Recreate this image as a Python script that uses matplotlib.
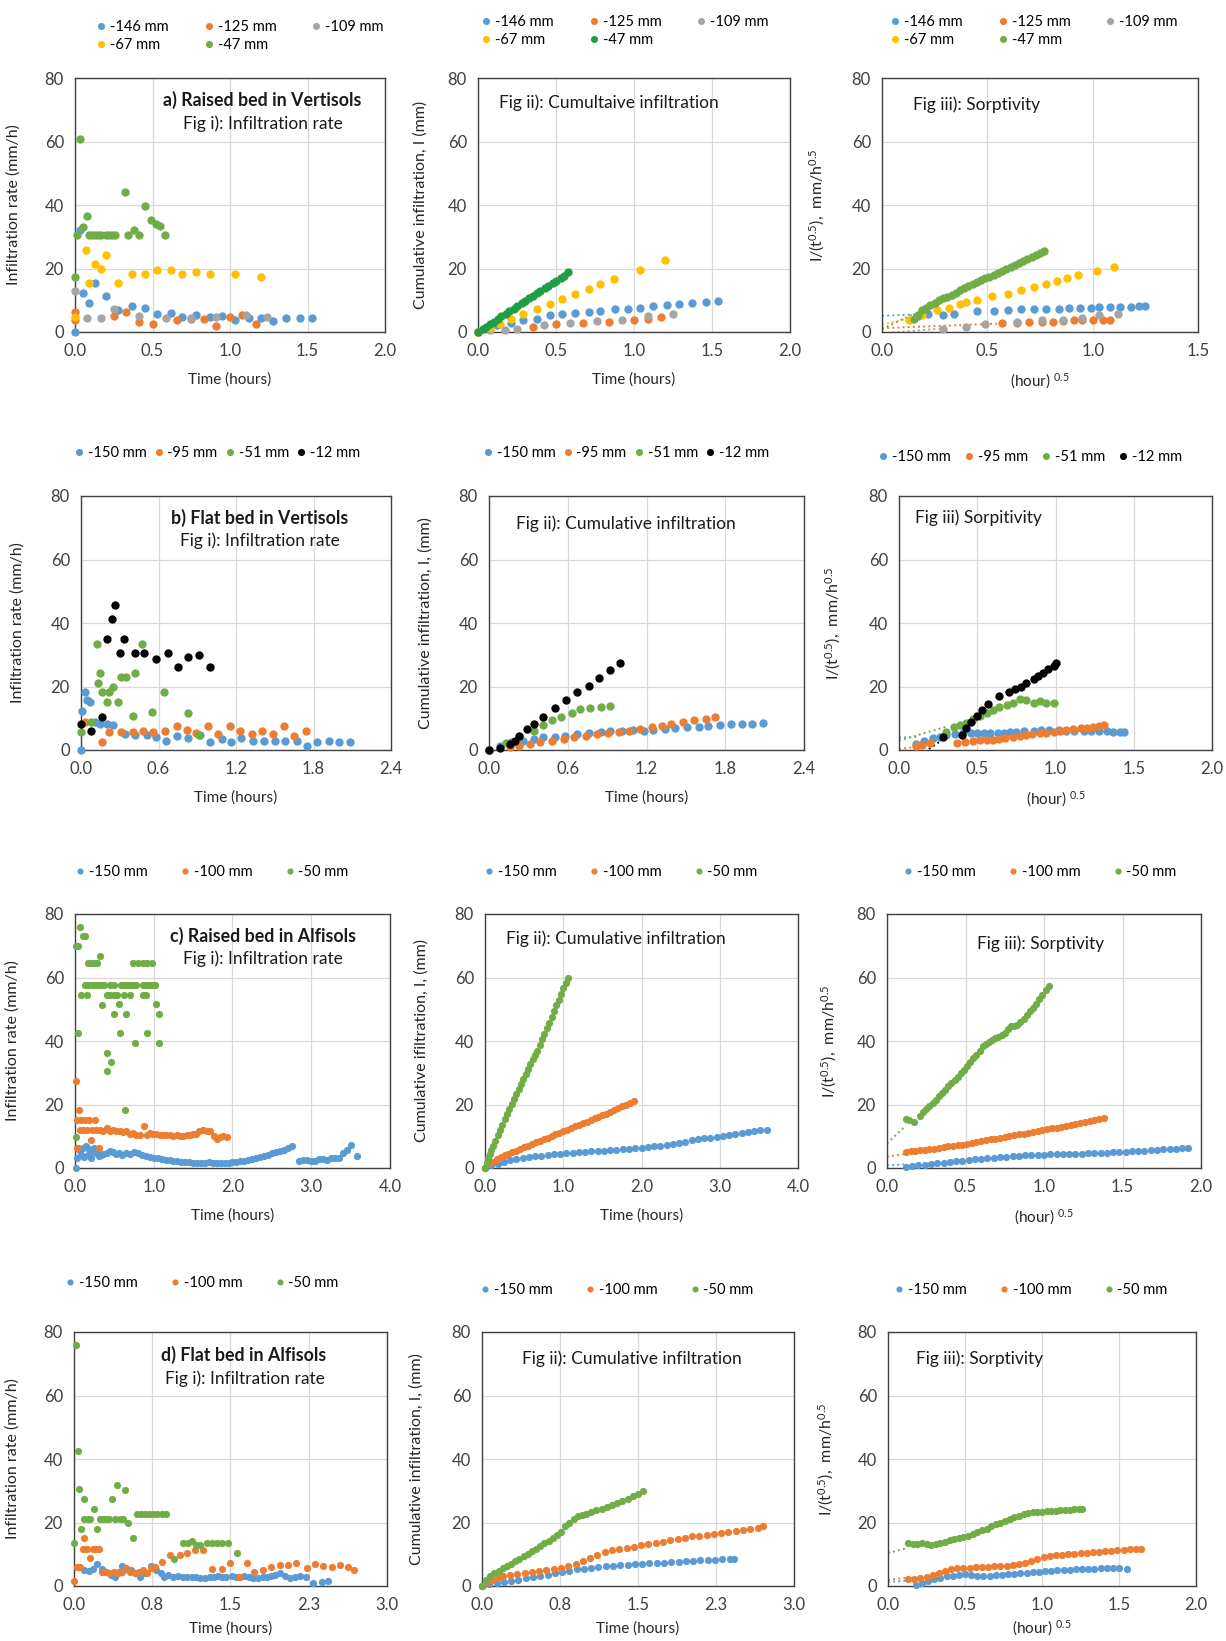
import matplotlib
matplotlib.use('Agg')
import matplotlib.pyplot as plt
import numpy as np

plt.rcParams['font.family'] = ['Lato', 'DejaVu Sans']
plt.rcParams['mathtext.fontset'] = 'custom'
plt.rcParams['mathtext.rm'] = 'Lato'
plt.rcParams['mathtext.it'] = 'Lato:italic'

W, H = 1226, 1641

BLUE = '#5B9BD5'
ORANGE = '#ED7D31'
GRAY = '#A5A5A5'
YELLOW = '#FFC000'
GREEN = '#70AD47'
DKGREEN = '#1E9E45'
BLACK = '#000000'

# ---------------- a) Raised bed in Vertisols ----------------
# Fig i) infiltration rate (t in hours, rate in mm/h)
a1_146_t = [0.00, 0.03, 0.05, 0.09, 0.13, 0.20, 0.28, 0.37, 0.45, 0.53, 0.62, 0.69, 0.78, 0.87, 0.95, 1.03, 1.12, 1.20, 1.28, 1.36, 1.45, 1.53]
a1_146_v = [0.0, 32.0, 12.3, 9.1, 15.4, 11.2, 6.8, 8.1, 7.7, 5.6, 6.1, 4.7, 5.2, 4.7, 4.9, 3.9, 4.5, 4.5, 3.5, 4.5, 4.5, 4.5]
a1_125_t = [0.00, 0.00, 0.25, 0.33, 0.41, 0.50, 0.66, 0.75, 0.83, 0.91, 1.00, 1.08, 1.17]
a1_125_v = [6.3, 3.7, 4.9, 6.3, 3.1, 2.6, 3.7, 4.2, 4.2, 1.8, 4.7, 5.2, 2.6]
a1_109_t = [0.00, 0.08, 0.17, 0.25, 0.41, 0.59, 0.75, 0.91, 1.10, 1.24]
a1_109_v = [12.9, 4.5, 4.5, 7.3, 4.9, 4.5, 4.5, 4.7, 5.2, 4.7]
a1_67_t = [0.00, 0.07, 0.09, 0.13, 0.17, 0.20, 0.28, 0.37, 0.45, 0.53, 0.62, 0.69, 0.78, 0.87, 1.03, 1.20]
a1_67_v = [4.7, 25.7, 15.4, 21.5, 20.0, 24.1, 15.4, 18.4, 18.4, 19.6, 19.6, 18.4, 18.9, 18.4, 18.4, 17.3]
a1_47_t = [0.00, 0.03, 0.01, 0.05, 0.08, 0.09, 0.11, 0.13, 0.15, 0.17, 0.20, 0.22, 0.24, 0.26, 0.32, 0.34, 0.38, 0.41, 0.45, 0.49, 0.52, 0.55, 0.58]
a1_47_v = [17.3, 60.9, 30.4, 33.0, 36.4, 30.4, 30.4, 30.4, 30.4, 30.4, 30.4, 30.4, 30.4, 30.4, 44.0, 30.4, 32.0, 30.4, 39.6, 35.2, 33.9, 33.3, 30.4]

# Fig ii) cumulative infiltration (mm)
a2_146_t = [0.00, 0.12, 0.21, 0.29, 0.38, 0.46, 0.54, 0.62, 0.71, 0.78, 0.88, 0.96, 1.04, 1.12, 1.21, 1.29, 1.37, 1.46, 1.54]
a2_146_v = [0.0, 2.1, 2.8, 3.7, 4.2, 5.2, 5.6, 6.0, 6.3, 6.6, 7.1, 7.3, 7.7, 8.1, 8.4, 8.9, 9.1, 9.4, 9.8]
a2_125_t = [0.00, 0.35, 0.50, 0.67, 0.84, 1.00, 1.09, 1.17]
a2_125_v = [0.0, 1.6, 2.4, 2.8, 3.1, 3.9, 4.2, 4.7]
a2_109_t = [0.08, 0.17, 0.25, 0.42, 0.59, 0.76, 0.92, 1.09, 1.25]
a2_109_v = [0.5, 0.7, 1.0, 2.1, 2.8, 3.5, 3.7, 4.9, 5.8]
a2_67_t = [0.00, 0.08, 0.14, 0.21, 0.29, 0.38, 0.46, 0.54, 0.62, 0.71, 0.78, 0.87, 1.04, 1.20]
a2_67_v = [0.0, 1.4, 2.6, 4.2, 5.8, 7.3, 8.9, 10.5, 12.1, 13.6, 15.2, 16.8, 19.6, 22.8]
a2_47_t = [0.00, 0.03, 0.05, 0.08, 0.10, 0.13, 0.15, 0.18, 0.20, 0.23, 0.25, 0.28, 0.30, 0.33, 0.35, 0.38, 0.40, 0.43, 0.45, 0.48, 0.50, 0.53, 0.55, 0.58]
a2_47_v = [0.0, 1.0, 1.7, 2.6, 3.3, 4.2, 4.9, 5.8, 6.5, 7.4, 8.1, 9.0, 9.7, 10.6, 11.3, 12.2, 12.9, 13.8, 14.5, 15.4, 16.1, 17.0, 17.7, 18.9]

# Fig iii) sorptivity (x in hour^0.5)
a3_146_x = [0.17, 0.22, 0.29, 0.34, 0.45, 0.53, 0.60, 0.66, 0.72, 0.78, 0.84, 0.89, 0.94, 0.99, 1.03, 1.08, 1.13, 1.18, 1.22, 1.25]
a3_146_v = [5.0, 5.8, 5.5, 5.8, 6.6, 6.6, 6.8, 7.1, 7.3, 7.3, 7.3, 7.6, 7.6, 7.7, 7.9, 7.9, 7.9, 7.9, 8.1, 8.1]
a3_125_x = [0.57, 0.64, 0.70, 0.76, 0.81, 0.86, 0.91, 0.95, 1.00, 1.05, 1.08]
a3_125_v = [2.8, 2.8, 3.0, 3.1, 3.1, 3.5, 3.7, 3.7, 3.9, 3.9, 3.9]
a3_109_x = [0.29, 0.40, 0.49, 0.64, 0.76, 0.86, 0.95, 1.03, 1.12]
a3_109_v = [1.0, 1.6, 2.6, 3.1, 3.7, 3.9, 4.5, 5.2, 5.8]
a3_67_x = [0.13, 0.19, 0.26, 0.32, 0.37, 0.40, 0.45, 0.52, 0.60, 0.66, 0.72, 0.78, 0.83, 0.88, 0.93, 1.02, 1.10]
a3_67_v = [3.7, 5.2, 6.8, 7.7, 8.7, 9.4, 10.2, 11.2, 12.1, 13.1, 14.2, 15.2, 16.1, 17.1, 17.8, 19.2, 20.5]
a3_47_x = [0.15, 0.17, 0.19, 0.21, 0.23, 0.25, 0.27, 0.29, 0.31, 0.33, 0.35, 0.37, 0.39, 0.41, 0.43, 0.45,
           0.47, 0.49, 0.51, 0.53, 0.55, 0.57, 0.59, 0.61, 0.63, 0.65, 0.67, 0.69, 0.71, 0.73, 0.75, 0.77]
a3_47_v = [4.2, 5.5, 6.8, 7.6, 8.4, 9.2, 10.0, 10.7, 11.1, 11.8, 12.4, 13.1, 13.8, 14.4, 15.0, 15.7,
           16.3, 16.9, 17.4, 18.1, 18.7, 19.3, 19.9, 20.5, 21.1, 21.7, 22.3, 22.9, 23.5, 24.1, 24.8, 25.4]

# ---------------- b) Flat bed in Vertisols ----------------
b1_150_t = [0.00, 0.01, 0.03, 0.05, 0.07, 0.11, 0.15, 0.20, 0.25, 0.34, 0.42, 0.51, 0.58, 0.66, 0.74, 0.83,
            0.92, 1.00, 1.09, 1.16, 1.24, 1.33, 1.42, 1.50, 1.58, 1.67, 1.75, 1.83, 1.92, 2.00, 2.08]
b1_150_v = [0.0, 12.4, 18.4, 15.7, 15.2, 8.9, 8.2, 8.2, 7.9, 5.0, 4.7, 4.7, 4.2, 2.9, 4.4, 3.7,
            4.7, 2.6, 3.4, 2.6, 3.7, 2.9, 2.9, 2.9, 2.9, 2.9, 1.3, 2.6, 2.9, 2.6, 2.6]
b1_95_t = [0.03, 0.16, 0.22, 0.31, 0.40, 0.48, 0.56, 0.65, 0.74, 0.82, 0.89, 0.98, 1.06, 1.15, 1.23, 1.32, 1.40, 1.49, 1.57, 1.65, 1.74]
b1_95_v = [8.9, 2.6, 5.6, 5.6, 5.8, 6.0, 5.6, 6.1, 7.6, 6.3, 5.5, 7.6, 5.0, 7.6, 6.1, 5.0, 6.1, 5.0, 7.6, 4.4, 6.1]
b1_51_t = [0.00, 0.08, 0.12, 0.13, 0.15, 0.16, 0.20, 0.22, 0.25, 0.29, 0.31, 0.35, 0.40, 0.42, 0.47, 0.55, 0.64, 0.83, 0.91]
b1_51_v = [5.8, 8.9, 33.4, 21.0, 24.4, 18.4, 15.2, 18.4, 20.0, 15.2, 22.9, 22.9, 10.7, 24.4, 33.4, 12.1, 18.4, 11.6, 4.7]
b1_12_t = [0.00, 0.08, 0.16, 0.20, 0.24, 0.26, 0.30, 0.33, 0.42, 0.49, 0.58, 0.67, 0.75, 0.83, 0.91, 1.00]
b1_12_v = [8.2, 6.1, 10.5, 34.9, 41.2, 45.7, 30.4, 34.9, 30.4, 30.4, 28.6, 30.4, 26.2, 29.2, 29.9, 26.2]

b2_150_t = [0.00, 0.08, 0.17, 0.26, 0.34, 0.41, 0.50, 0.58, 0.67, 0.76, 0.85, 0.92, 1.01, 1.10, 1.18, 1.25,
            1.34, 1.42, 1.51, 1.60, 1.67, 1.76, 1.84, 1.93, 2.00, 2.09]
b2_150_v = [0.0, 1.4, 2.4, 2.9, 3.5, 4.0, 4.2, 4.5, 5.1, 5.3, 5.6, 5.9, 6.1, 6.3, 6.1, 6.3,
            6.6, 6.9, 7.4, 7.4, 7.7, 8.0, 8.2, 8.2, 8.2, 8.4]
b2_95_t = [0.00, 0.16, 0.23, 0.31, 0.39, 0.48, 0.57, 0.65, 0.74, 0.82, 0.91, 0.99, 1.07, 1.15, 1.24, 1.32, 1.39, 1.48, 1.56, 1.65, 1.72]
b2_95_v = [0.0, 0.8, 1.4, 1.9, 2.4, 2.9, 3.5, 4.2, 4.5, 5.1, 5.3, 5.6, 5.9, 6.6, 7.4, 7.7, 8.2, 8.7, 9.3, 9.8, 10.3]
b2_51_t = [0.00, 0.13, 0.23, 0.34, 0.41, 0.48, 0.55, 0.63, 0.69, 0.77, 0.85, 0.92]
b2_51_v = [0.0, 2.1, 4.0, 5.9, 8.0, 9.3, 10.5, 11.6, 12.9, 13.3, 13.7, 14.0]
b2_12_t = [0.00, 0.08, 0.16, 0.20, 0.23, 0.29, 0.34, 0.41, 0.50, 0.59, 0.67, 0.76, 0.84, 0.92, 1.00]
b2_12_v = [0.0, 0.6, 1.9, 2.9, 4.5, 6.6, 8.2, 10.5, 13.3, 15.8, 18.2, 20.3, 22.7, 25.3, 27.4]

b3_150_x = [0.11, 0.16, 0.22, 0.26, 0.30, 0.36, 0.41, 0.46, 0.50, 0.54, 0.58, 0.63, 0.67, 0.71, 0.75, 0.80,
            0.86, 0.91, 0.96, 1.02, 1.07, 1.12, 1.18, 1.23, 1.28, 1.33, 1.37, 1.41, 1.44]
b3_150_v = [1.9, 2.8, 3.7, 4.2, 4.7, 5.0, 5.2, 5.4, 5.5, 5.5, 5.5, 5.5, 5.5, 5.6, 5.8, 5.9,
            6.1, 6.2, 6.3, 6.2, 6.1, 6.1, 6.1, 6.1, 6.1, 5.9, 5.8, 5.8, 5.8]
b3_95_x = [0.11, 0.15, 0.20, 0.37, 0.42, 0.47, 0.52, 0.56, 0.60, 0.64, 0.68, 0.73, 0.77, 0.81, 0.85, 0.90,
           0.94, 0.99, 1.03, 1.07, 1.11, 1.16, 1.20, 1.24, 1.28, 1.31]
b3_95_v = [1.3, 1.7, 2.1, 2.3, 2.6, 2.9, 3.0, 3.1, 3.2, 3.4, 3.8, 4.2, 4.4, 4.7, 5.0, 5.3,
           5.5, 5.8, 6.0, 6.3, 6.5, 6.8, 7.0, 7.3, 7.6, 7.9]
b3_51_x = [0.30, 0.35, 0.39, 0.43, 0.47, 0.52, 0.56, 0.60, 0.64, 0.69, 0.73, 0.77, 0.81, 0.86, 0.90, 0.94, 0.99]
b3_51_v = [5.8, 7.1, 7.9, 8.6, 9.7, 10.7, 11.8, 12.6, 13.6, 14.2, 14.7, 16.0, 15.7, 14.9, 15.5, 14.9, 14.9]
b3_12_x = [0.28, 0.40, 0.43, 0.46, 0.50, 0.53, 0.57, 0.64, 0.70, 0.74, 0.78, 0.81, 0.86, 0.89, 0.92, 0.95, 0.99, 1.00]
b3_12_v = [4.2, 4.7, 6.8, 8.9, 10.7, 12.6, 14.5, 17.0, 18.4, 19.1, 20.0, 21.0, 22.3, 23.3, 24.4, 25.4, 26.5, 27.3]

# ---------------- c) Raised bed in Alfisols ----------------
c1_150_t = [0.01, 0.02, 0.04, 0.06, 0.08, 0.10, 0.12, 0.14, 0.16, 0.18, 0.20, 0.22, 0.24, 0.27, 0.30, 0.33,
            0.36, 0.40, 0.44, 0.48, 0.52, 0.56, 0.60, 0.65, 0.70, 0.75, 0.80, 0.85, 0.90, 0.95, 1.00, 1.05,
            1.10, 1.15, 1.20, 1.25, 1.30, 1.35, 1.40, 1.45, 1.50, 1.55, 1.60, 1.65, 1.70, 1.75, 1.80, 1.85,
            1.90, 1.95, 2.00, 2.05, 2.10, 2.15, 2.20, 2.25, 2.30, 2.35, 2.40, 2.45, 2.50, 2.55, 2.60, 2.65,
            2.70, 2.75, 2.85, 2.90, 2.95, 3.00, 3.05, 3.10, 3.15, 3.20, 3.25, 3.30, 3.35, 3.40, 3.45, 3.50, 3.58]
c1_150_v = [0.0, 3.1, 6.3, 5.2, 4.0, 6.3, 3.5, 6.8, 4.2, 6.0, 3.3, 5.5, 6.3, 4.7, 3.7, 4.0,
            4.4, 4.8, 5.2, 4.9, 4.4, 4.6, 4.1, 4.7, 4.3, 4.9, 4.6, 4.1, 3.9, 3.6, 3.3, 3.0,
            2.8, 2.6, 2.4, 2.2, 2.1, 2.0, 1.9, 1.8, 1.7, 1.6, 1.6, 1.7, 1.8, 1.6, 1.6, 1.7,
            1.6, 1.7, 1.8, 2.0, 2.1, 2.3, 2.6, 2.9, 3.2, 3.5, 3.8, 4.2, 4.6, 4.9, 5.3, 5.8,
            6.2, 6.8, 2.1, 2.4, 2.6, 2.3, 2.2, 2.7, 2.9, 2.5, 3.1, 3.0, 3.2, 4.7, 5.8, 7.3, 3.7]
c1_100_t = [0.01, 0.02, 0.03, 0.05, 0.06, 0.08, 0.10, 0.13, 0.15, 0.18, 0.20, 0.22, 0.25, 0.27, 0.30, 0.32,
            0.36, 0.40, 0.44, 0.48, 0.52, 0.57, 0.61, 0.65, 0.70, 0.74, 0.78, 0.82, 0.87, 0.91, 0.95, 0.99,
            1.03, 1.08, 1.12, 1.16, 1.20, 1.25, 1.29, 1.33, 1.37, 1.42, 1.46, 1.50, 1.54, 1.58, 1.63, 1.67,
            1.71, 1.76, 1.80, 1.84, 1.88, 1.93]
c1_100_v = [27.3, 6.3, 15.2, 18.4, 12.1, 15.2, 12.1, 15.2, 12.1, 15.2, 8.9, 12.1, 15.2, 12.1, 6.3, 12.1,
            11.5, 12.6, 11.8, 12.1, 11.5, 11.8, 11.2, 11.5, 10.7, 11.0, 10.5, 10.3, 13.1, 10.5, 11.0, 10.7,
            10.7, 10.5, 10.5, 10.3, 10.3, 10.0, 10.3, 10.0, 10.0, 10.3, 10.5, 10.7, 10.7, 11.5, 12.1, 11.8,
            11.8, 10.0, 9.2, 9.7, 10.0, 9.7]
c1_50_t = [0.01, 0.04, 0.06, 0.10, 0.13, 0.04, 0.01, 0.17, 0.20, 0.24, 0.28, 0.32, 0.13, 0.17, 0.21, 0.25,
           0.29, 0.33, 0.37, 0.45, 0.50, 0.58, 0.62, 0.66, 0.70, 0.74, 0.78, 0.86, 0.90, 0.94, 0.98, 1.02,
           0.07, 0.15, 0.41, 0.45, 0.50, 0.53, 0.62, 0.70, 0.86, 0.90, 0.74, 0.80, 0.86, 0.92, 0.98, 0.34,
           0.56, 1.03, 0.49, 0.65, 1.07, 0.57, 0.91, 0.76, 1.07, 0.41, 0.46, 0.40, 0.63]
c1_50_v = [69.8, 69.8, 75.8, 73.0, 73.0, 42.5, 9.7, 64.5, 64.5, 64.5, 64.5, 66.7, 57.7, 57.7, 57.7, 57.7,
           57.7, 57.7, 57.7, 57.7, 57.7, 57.7, 57.7, 57.7, 57.7, 57.7, 57.7, 57.7, 57.7, 57.7, 57.7, 57.7,
           54.6, 54.6, 54.6, 54.6, 54.6, 54.6, 54.6, 54.6, 54.6, 54.6, 64.5, 64.5, 64.5, 64.5, 64.5, 51.4,
           51.6, 51.6, 48.5, 48.5, 48.5, 42.5, 42.5, 39.4, 39.4, 36.2, 33.4, 30.4, 18.4]

c2_150_t = [0.00, 0.08, 0.16, 0.24, 0.32, 0.40, 0.48, 0.56, 0.64, 0.72, 0.80, 0.88, 0.96, 1.04, 1.12, 1.20,
            1.28, 1.36, 1.44, 1.52, 1.60, 1.68, 1.76, 1.84, 1.92, 2.00, 2.08, 2.16, 2.24, 2.32, 2.40, 2.48,
            2.56, 2.64, 2.72, 2.80, 2.88, 2.96, 3.04, 3.12, 3.20, 3.28, 3.36, 3.44, 3.52, 3.60]
c2_150_v = [0.0, 0.8, 1.4, 1.9, 2.4, 2.8, 3.1, 3.4, 3.7, 3.9, 4.1, 4.3, 4.4, 4.6, 4.7, 4.9,
            5.0, 5.2, 5.3, 5.5, 5.6, 5.8, 5.9, 6.1, 6.2, 6.4, 6.6, 6.8, 7.0, 7.3, 7.6, 7.9,
            8.3, 8.7, 9.0, 9.3, 9.6, 9.9, 10.2, 10.5, 10.8, 11.0, 11.3, 11.6, 11.9, 12.1]
c2_100_t = [0.00, 0.05, 0.10, 0.15, 0.20, 0.25, 0.30, 0.35, 0.40, 0.45, 0.50, 0.55, 0.60, 0.65, 0.70, 0.75,
            0.80, 0.85, 0.90, 0.95, 1.00, 1.05, 1.10, 1.15, 1.20, 1.25, 1.30, 1.35, 1.40, 1.45, 1.50, 1.55,
            1.60, 1.65, 1.70, 1.75, 1.80, 1.85, 1.90]
c2_100_v = [0.0, 1.2, 2.0, 2.8, 3.4, 4.0, 4.5, 5.0, 5.5, 6.0, 6.5, 7.0, 7.6, 8.1, 8.6, 9.1,
            9.6, 10.1, 10.6, 11.1, 11.6, 12.1, 12.6, 13.1, 13.6, 14.1, 14.6, 15.1, 15.6, 16.1, 16.6, 17.1,
            17.6, 18.2, 18.8, 19.4, 20.0, 20.6, 21.2]
c2_50_t = [0.00, 0.02, 0.04, 0.06, 0.08, 0.10, 0.13, 0.16, 0.19, 0.22, 0.25, 0.28, 0.31, 0.34, 0.37, 0.40,
           0.43, 0.46, 0.49, 0.52, 0.55, 0.58, 0.61, 0.64, 0.67, 0.70, 0.73, 0.76, 0.79, 0.82, 0.85, 0.88,
           0.91, 0.94, 0.97, 1.00, 1.03, 1.06]
c2_50_v = [0.0, 1.6, 3.0, 4.3, 5.6, 6.8, 8.6, 10.4, 12.0, 13.7, 15.3, 17.0, 18.6, 20.2, 21.8, 23.3,
           24.9, 26.5, 28.0, 29.6, 31.2, 32.8, 34.4, 35.6, 36.9, 38.7, 40.5, 42.3, 44.0, 45.8, 47.6, 49.4,
           51.2, 53.0, 54.8, 56.6, 58.3, 60.0]

c3_150_x = [0.12, 0.16, 0.20, 0.24, 0.28, 0.32, 0.36, 0.40, 0.44, 0.48, 0.52, 0.56, 0.60, 0.64, 0.68, 0.72,
            0.76, 0.80, 0.84, 0.88, 0.92, 0.96, 1.00, 1.04, 1.08, 1.12, 1.16, 1.20, 1.24, 1.28, 1.32, 1.36,
            1.40, 1.44, 1.48, 1.52, 1.56, 1.60, 1.64, 1.68, 1.72, 1.76, 1.80, 1.84, 1.88, 1.92]
c3_150_v = [0.2, 0.5, 0.8, 1.0, 1.2, 1.5, 1.7, 1.9, 2.1, 2.3, 2.6, 2.8, 2.9, 3.1, 3.3, 3.5,
            3.6, 3.8, 3.9, 4.0, 4.1, 4.2, 4.2, 4.3, 4.3, 4.4, 4.4, 4.5, 4.5, 4.6, 4.6, 4.7,
            4.8, 4.9, 5.0, 5.1, 5.3, 5.4, 5.5, 5.6, 5.8, 5.9, 6.0, 6.1, 6.2, 6.3]
c3_100_x = [0.12, 0.15, 0.18, 0.21, 0.24, 0.27, 0.30, 0.33, 0.36, 0.39, 0.42, 0.45, 0.48, 0.51, 0.54, 0.57,
            0.60, 0.63, 0.66, 0.69, 0.72, 0.75, 0.78, 0.81, 0.84, 0.87, 0.90, 0.93, 0.96, 0.99, 1.02, 1.05,
            1.08, 1.11, 1.14, 1.17, 1.20, 1.23, 1.26, 1.29, 1.32, 1.35, 1.38]
c3_100_v = [5.0, 5.2, 5.4, 5.6, 5.8, 6.0, 6.1, 6.3, 6.6, 6.8, 7.0, 7.1, 7.3, 7.5, 7.8, 8.2,
            8.5, 8.8, 9.0, 9.2, 9.5, 9.8, 10.1, 10.3, 10.6, 10.8, 11.1, 11.4, 11.6, 11.9, 12.2, 12.5,
            12.7, 13.0, 13.3, 13.6, 13.8, 14.1, 14.4, 14.7, 15.0, 15.3, 15.7]
c3_50_x = [0.12, 0.14, 0.17, 0.21, 0.23, 0.25, 0.27, 0.29, 0.31, 0.33, 0.35, 0.37, 0.39, 0.41, 0.43, 0.45,
           0.47, 0.49, 0.51, 0.53, 0.55, 0.57, 0.59, 0.61, 0.63, 0.65, 0.67, 0.69, 0.71, 0.73, 0.75, 0.77,
           0.79, 0.81, 0.83, 0.85, 0.87, 0.89, 0.91, 0.93, 0.95, 0.97, 0.99, 1.01, 1.03]
c3_50_v = [15.4, 15.0, 14.5, 16.5, 17.5, 18.6, 19.6, 20.5, 21.5, 22.6, 23.6, 24.7, 25.7, 26.8, 27.8, 28.8,
           29.9, 31.0, 32.1, 33.3, 34.5, 35.7, 37.0, 38.3, 39.2, 39.8, 40.4, 40.9, 41.4, 41.8, 42.5, 43.8,
           44.6, 44.8, 45.0, 45.9, 47.0, 48.3, 49.3, 50.4, 51.6, 53.1, 54.6, 56.0, 57.3]

# ---------------- d) Flat bed in Alfisols ----------------
d1_150_t = [0.05, 0.10, 0.14, 0.18, 0.22, 0.27, 0.31, 0.35, 0.39, 0.43, 0.46, 0.50, 0.55, 0.59, 0.63, 0.68,
            0.74, 0.79, 0.83, 0.86, 0.90, 0.95, 1.00, 1.04, 1.08, 1.13, 1.17, 1.21, 1.26, 1.30, 1.34, 1.38,
            1.42, 1.46, 1.51, 1.55, 1.59, 1.63, 1.68, 1.72, 1.76, 1.81, 1.85, 1.89, 1.93, 1.97, 2.02, 2.07,
            2.12, 2.17, 2.22, 2.29, 2.38, 2.43]
d1_150_v = [6.0, 5.0, 4.8, 5.5, 6.9, 5.5, 4.5, 3.6, 2.9, 4.5, 6.3, 5.5, 5.0, 4.0, 2.9, 4.0,
            6.3, 5.0, 4.0, 2.9, 3.5, 2.9, 3.1, 2.9, 2.9, 2.7, 2.9, 2.4, 2.6, 2.9, 2.9, 3.1,
            2.7, 2.9, 3.1, 2.9, 2.9, 3.1, 2.7, 2.4, 2.6, 2.9, 2.9, 3.3, 3.6, 4.0, 3.1, 2.4,
            2.9, 3.1, 2.9, 1.0, 1.4, 1.7]
d1_100_t = [0.00, 0.03, 0.06, 0.09, 0.10, 0.12, 0.15, 0.18, 0.21, 0.24, 0.27, 0.30, 0.34, 0.38, 0.42, 0.46,
            0.50, 0.54, 0.58, 0.62, 0.66, 0.70, 0.74, 0.78, 0.84, 0.92, 1.02, 1.08, 1.16, 1.24, 1.32, 1.42,
            1.50, 1.58, 1.66, 1.73, 1.81, 1.89, 1.97, 2.05, 2.13, 2.23, 2.31, 2.39, 2.47, 2.55, 2.63, 2.68]
d1_100_v = [1.7, 5.9, 6.1, 11.8, 15.0, 11.8, 8.7, 11.8, 11.8, 11.8, 4.5, 4.5, 4.2, 4.5, 4.0, 4.5,
            5.6, 4.5, 4.0, 4.5, 5.0, 4.2, 5.6, 5.9, 7.7, 9.7, 9.7, 10.3, 11.3, 11.3, 5.2, 5.2,
            7.3, 2.9, 7.3, 4.5, 5.0, 6.1, 6.6, 6.6, 7.1, 5.6, 6.9, 6.3, 5.9, 6.6, 5.9, 5.0]
d1_50_t = [0.00, 0.02, 0.04, 0.05, 0.07, 0.10, 0.10, 0.13, 0.15, 0.19, 0.22, 0.25, 0.28, 0.31, 0.34, 0.36,
           0.39, 0.41, 0.44, 0.47, 0.49, 0.52, 0.57, 0.60, 0.64, 0.68, 0.72, 0.76, 0.80, 0.84, 0.88, 0.96,
           1.04, 1.09, 1.13, 1.17, 1.21, 1.27, 1.32, 1.37, 1.42, 1.48, 1.56]
d1_50_v = [13.4, 75.8, 42.6, 30.4, 18.1, 27.3, 21.0, 21.0, 21.0, 24.1, 18.1, 21.0, 21.0, 21.0, 21.0, 27.3,
           21.0, 31.8, 21.0, 21.0, 30.2, 19.7, 15.0, 22.6, 22.6, 22.6, 22.6, 22.6, 22.6, 22.6, 22.6, 8.4,
           13.4, 13.4, 14.3, 12.9, 12.9, 13.4, 13.4, 13.4, 13.4, 13.4, 10.5]

d2_150_t = [0.00, 0.07, 0.14, 0.21, 0.28, 0.35, 0.42, 0.49, 0.56, 0.63, 0.70, 0.77, 0.84, 0.91, 0.98, 1.05,
            1.12, 1.19, 1.26, 1.33, 1.40, 1.47, 1.54, 1.61, 1.68, 1.75, 1.82, 1.89, 1.96, 2.03, 2.10, 2.17,
            2.24, 2.31, 2.38, 2.42]
d2_150_v = [0.0, 0.5, 0.9, 1.3, 1.7, 2.0, 2.4, 2.8, 3.2, 3.6, 4.0, 4.4, 4.8, 5.2, 5.5, 5.8,
            6.0, 6.2, 6.4, 6.5, 6.7, 6.8, 7.0, 7.1, 7.3, 7.4, 7.6, 7.7, 7.8, 8.0, 8.1, 8.2,
            8.3, 8.4, 8.5, 8.5]
d2_100_t = [0.00, 0.05, 0.10, 0.15, 0.20, 0.27, 0.34, 0.41, 0.48, 0.55, 0.62, 0.69, 0.76, 0.83, 0.90, 0.97,
            1.04, 1.11, 1.18, 1.25, 1.32, 1.39, 1.46, 1.53, 1.60, 1.67, 1.74, 1.81, 1.88, 1.95, 2.02, 2.09,
            2.16, 2.23, 2.30, 2.37, 2.44, 2.51, 2.58, 2.65, 2.70]
d2_100_v = [0.0, 1.2, 2.0, 2.5, 3.0, 3.4, 3.8, 4.1, 4.4, 4.7, 5.0, 5.4, 5.8, 6.3, 7.0, 7.8,
            8.8, 9.8, 10.6, 11.2, 11.6, 12.0, 12.4, 12.8, 13.2, 13.6, 14.0, 14.4, 14.8, 15.2, 15.6, 15.9,
            16.2, 16.5, 16.8, 17.1, 17.4, 17.7, 18.0, 18.4, 18.8]
d2_50_t = [0.00, 0.04, 0.08, 0.12, 0.16, 0.20, 0.24, 0.28, 0.32, 0.36, 0.40, 0.44, 0.48, 0.52, 0.56, 0.60,
           0.64, 0.68, 0.72, 0.76, 0.80, 0.84, 0.88, 0.92, 0.96, 1.00, 1.05, 1.10, 1.15, 1.20, 1.25, 1.30,
           1.35, 1.40, 1.45, 1.50, 1.55]
d2_50_v = [0.0, 1.8, 3.0, 4.0, 4.8, 5.6, 6.3, 7.0, 7.8, 8.6, 9.4, 10.2, 11.0, 11.8, 12.6, 13.5,
           14.3, 15.2, 16.1, 17.0, 18.8, 20.0, 21.2, 22.0, 22.3, 22.6, 23.2, 23.8, 24.4, 25.0, 25.6, 26.2,
           26.8, 27.5, 28.3, 29.0, 29.9]

d3_150_x = [0.18, 0.22, 0.26, 0.30, 0.34, 0.38, 0.42, 0.46, 0.50, 0.54, 0.58, 0.62, 0.66, 0.70, 0.74, 0.78,
            0.82, 0.86, 0.90, 0.94, 0.98, 1.02, 1.06, 1.10, 1.14, 1.18, 1.22, 1.26, 1.30, 1.34, 1.38, 1.42,
            1.46, 1.50, 1.55]
d3_150_v = [0.2, 1.0, 1.6, 2.1, 2.6, 3.0, 3.3, 3.5, 3.7, 3.4, 3.1, 3.2, 3.3, 3.4, 3.6, 3.7,
            3.9, 4.0, 4.2, 4.3, 4.5, 4.6, 4.7, 4.9, 5.0, 5.1, 5.2, 5.3, 5.4, 5.5, 5.6, 5.6,
            5.7, 5.6, 5.5]
d3_100_x = [0.13, 0.17, 0.21, 0.25, 0.29, 0.33, 0.37, 0.41, 0.45, 0.49, 0.53, 0.57, 0.61, 0.65, 0.69, 0.73,
            0.77, 0.81, 0.85, 0.89, 0.93, 0.97, 1.01, 1.05, 1.09, 1.13, 1.17, 1.21, 1.25, 1.29, 1.33, 1.37,
            1.41, 1.45, 1.49, 1.53, 1.57, 1.61, 1.64]
d3_100_v = [2.3, 2.2, 2.5, 2.9, 3.4, 4.0, 4.6, 5.2, 5.6, 5.8, 5.8, 5.9, 6.0, 6.1, 6.2, 6.3,
            6.4, 6.6, 6.9, 7.3, 7.9, 8.5, 9.0, 9.4, 9.7, 9.9, 10.1, 10.2, 10.4, 10.5, 10.6, 10.8,
            10.9, 11.0, 11.2, 11.3, 11.5, 11.7, 11.8]
d3_50_x = [0.13, 0.16, 0.19, 0.22, 0.25, 0.28, 0.31, 0.34, 0.37, 0.40, 0.43, 0.46, 0.49, 0.52, 0.55, 0.58,
           0.61, 0.64, 0.67, 0.70, 0.73, 0.76, 0.79, 0.82, 0.85, 0.88, 0.91, 0.94, 0.97, 1.00, 1.03, 1.06,
           1.09, 1.12, 1.15, 1.18, 1.21, 1.24, 1.26]
d3_50_v = [13.6, 13.3, 13.2, 13.4, 13.2, 13.0, 13.3, 13.7, 14.0, 14.4, 14.8, 15.1, 15.5, 15.9, 16.4, 17.0,
           17.5, 18.1, 18.8, 19.4, 20.0, 20.5, 21.0, 21.6, 22.1, 22.6, 23.1, 23.3, 23.2, 23.4, 23.5, 23.6,
           23.7, 23.8, 23.9, 24.0, 24.1, 24.2, 24.2]

fig = plt.figure(figsize=(W / 100, H / 100), dpi=100, facecolor='white')


def px(x, y):
    return x / W, 1 - y / H


def panel(box, series, xmax, xticks, xticklabels, xlabel, ylabel, ylab_x,
          leg_xy, leg_ncol, colsp, trend=False, ms=6, xlab_off=40):
    x0, x1, y0, y1 = box
    ax = fig.add_axes([x0 / W, 1 - y1 / H, (x1 - x0) / W, (y1 - y0) / H])
    handles = []
    for xs, ys, name, color in series:
        if trend:
            # excel style linear trendline, only the backward part shows from under the dots
            k, b = np.polyfit(xs, ys, 1)
            ax.plot([0, min(xs)], [b, b + k * min(xs)], ls=':', lw=1.4, color=color, zorder=2)
        h, = ax.plot(xs, ys, 'o', ms=ms, color=color, mec='none', label=name, zorder=3, clip_on=False)
        handles.append(h)
    ax.set_xlim(0, xmax)
    ax.set_ylim(0, 80)
    ax.set_xticks(xticks)
    ax.set_xticklabels(xticklabels)
    ax.set_yticks([0, 20, 40, 60, 80])
    ax.grid(True, color='#D9D9D9', lw=0.9)
    ax.set_axisbelow(True)
    for s in ax.spines.values():
        s.set_color('#404040')
        s.set_linewidth(1.0)
    ax.tick_params(length=0, pad=8, labelsize=12, colors='#404040')
    ax.set_xlabel(xlabel, fontsize=11, color='#262626')
    ax.xaxis.set_label_coords(0.5, -xlab_off / (y1 - y0))
    ax.set_ylabel(ylabel, fontsize=11.5, color='#262626')
    ax.yaxis.set_label_coords((ylab_x - x0) / (x1 - x0), 0.5)
    if len(handles) == 5 and leg_ncol == 3:
        handles = [handles[i] for i in (0, 3, 1, 4, 2)]
    fig.legend(handles=handles, labels=[h.get_label() for h in handles], loc='center',
               bbox_to_anchor=px(*leg_xy), ncol=leg_ncol, frameon=False, fontsize=10.5,
               handlelength=0.7, handletextpad=0.25, columnspacing=colsp,
               labelspacing=0.3, markerscale=0.85, borderaxespad=0, borderpad=0)
    return ax


def label(x, y, s, bold=False, ha='left', size=12.5):
    fig.text(x / W, 1 - y / H, s, ha=ha, va='center', fontsize=size,
             fontweight='bold' if bold else 'normal', color='#1a1a1a')


T_LAB = 'Time (hours)'
S_LAB = '(hour) $^{0.5}$'
R_LAB = 'Infiltration rate (mm/h)'
S_YLAB = 'I/(t$^{0.5}$),  mm/h$^{0.5}$'

# ----- row a -----
panel((75, 385, 78, 332),
      [(a1_146_t, a1_146_v, '-146 mm', BLUE), (a1_125_t, a1_125_v, '-125 mm', ORANGE),
       (a1_109_t, a1_109_v, '-109 mm', GRAY), (a1_67_t, a1_67_v, '-67 mm', YELLOW),
       (a1_47_t, a1_47_v, '-47 mm', GREEN)],
      2.0, [0, 0.5, 1.0, 1.5, 2.0], ['0.0', '0.5', '1.0', '1.5', '2.0'],
      T_LAB, R_LAB, 21, (240, 36), 3, 2.4)
panel((478, 790, 78, 332),
      [(a2_146_t, a2_146_v, '-146 mm', BLUE), (a2_125_t, a2_125_v, '-125 mm', ORANGE),
       (a2_109_t, a2_109_v, '-109 mm', GRAY), (a2_67_t, a2_67_v, '-67 mm', YELLOW),
       (a2_47_t, a2_47_v, '-47 mm', DKGREEN)],
      2.0, [0, 0.5, 1.0, 1.5, 2.0], ['0.0', '0.5', '1.0', '1.5', '2.0'],
      T_LAB, 'Cumulative infiltration, I (mm)', 428, (625, 31), 3, 2.4)
panel((882, 1198, 78, 332),
      [(a3_146_x, a3_146_v, '-146 mm', BLUE), (a3_125_x, a3_125_v, '-125 mm', ORANGE),
       (a3_109_x, a3_109_v, '-109 mm', GRAY), (a3_67_x, a3_67_v, '-67 mm', YELLOW),
       (a3_47_x, a3_47_v, '-47 mm', GREEN)],
      1.5, [0, 0.5, 1.0, 1.5], ['0.0', '0.5', '1.0', '1.5'],
      S_LAB, S_YLAB, 827, (1034, 31), 3, 2.4, trend=True)
label(262, 100, 'a) Raised bed in Vertisols', bold=True, ha='center', size=12.8)
label(263, 124, 'Fig i): Infiltration rate', ha='center')
label(499, 103, 'Fig ii): Cumultaive infiltration')
label(913, 105, 'Fig iii): Sorptivity')

# ----- row b -----
b_ticks = [0, 0.6, 1.2, 1.8, 2.4]
b_labels = ['0.0', '0.6', '1.2', '1.8', '2.4']
panel((81, 391, 496, 750),
      [(b1_150_t, b1_150_v, '-150 mm', BLUE), (b1_95_t, b1_95_v, '-95 mm', ORANGE),
       (b1_51_t, b1_51_v, '-51 mm', GREEN), (b1_12_t, b1_12_v, '-12 mm', BLACK)],
      2.4, b_ticks, b_labels, T_LAB, R_LAB, 25, (217, 453), 4, 0.5)
panel((489, 804, 496, 750),
      [(b2_150_t, b2_150_v, '-150 mm', BLUE), (b2_95_t, b2_95_v, '-95 mm', ORANGE),
       (b2_51_t, b2_51_v, '-51 mm', GREEN), (b2_12_t, b2_12_v, '-12 mm', BLACK)],
      2.4, b_ticks, b_labels, T_LAB, 'Cumulative infiltration, I, (mm)', 433, (626, 453), 4, 0.5)
panel((899, 1212, 496, 750),
      [(b3_150_x, b3_150_v, '-150 mm', BLUE), (b3_95_x, b3_95_v, '-95 mm', ORANGE),
       (b3_51_x, b3_51_v, '-51 mm', GREEN), (b3_12_x, b3_12_v, '-12 mm', BLACK)],
      2.0, [0, 0.5, 1.0, 1.5, 2.0], ['0.0', '0.5', '1.0', '1.5', '2.0'],
      S_LAB, S_YLAB, 843, (1030, 457), 4, 0.9, trend=True)
label(260, 518, 'b) Flat bed in Vertisols', bold=True, ha='center', size=12.8)
label(260, 541, 'Fig i): Infiltration rate', ha='center')
label(516, 524, 'Fig ii): Cumulative infiltration')
label(915, 518, 'Fig iii) Sorpitivity')

# ----- row c -----
panel((75, 390, 914, 1168),
      [(c1_150_t, c1_150_v, '-150 mm', BLUE), (c1_100_t, c1_100_v, '-100 mm', ORANGE),
       (c1_50_t, c1_50_v, '-50 mm', GREEN)],
      4.0, [0, 1, 2, 3, 4], ['0.0', '1.0', '2.0', '3.0', '4.0'],
      T_LAB, R_LAB, 20, (212, 872), 3, 2.2, ms=5.2)
panel((485, 798, 914, 1168),
      [(c2_150_t, c2_150_v, '-150 mm', BLUE), (c2_100_t, c2_100_v, '-100 mm', ORANGE),
       (c2_50_t, c2_50_v, '-50 mm', GREEN)],
      4.0, [0, 1, 2, 3, 4], ['0.0', '1.0', '2.0', '3.0', '4.0'],
      T_LAB, 'Cumulative ifiltration, I, (mm)', 429, (621, 872), 3, 2.2, ms=5.2)
panel((887, 1201, 914, 1168),
      [(c3_150_x, c3_150_v, '-150 mm', BLUE), (c3_100_x, c3_100_v, '-100 mm', ORANGE),
       (c3_50_x, c3_50_v, '-50 mm', GREEN)],
      2.0, [0, 0.5, 1.0, 1.5, 2.0], ['0.0', '0.5', '1.0', '1.5', '2.0'],
      S_LAB, S_YLAB, 839, (1040, 872), 3, 2.2, trend=True, ms=5.2)
label(263, 936, 'c) Raised bed in Alfisols', bold=True, ha='center', size=12.8)
label(263, 959, 'Fig i): Infiltration rate', ha='center')
label(506, 939, 'Fig ii): Cumulative infiltration')
label(977, 944, 'Fig iii): Sorptivity')

# ----- row d -----
d_ticks = [0, 0.75, 1.5, 2.25, 3.0]
d_labels = ['0.0', '0.8', '1.5', '2.3', '3.0']
panel((74, 387, 1332, 1586),
      [(d1_150_t, d1_150_v, '-150 mm', BLUE), (d1_100_t, d1_100_v, '-100 mm', ORANGE),
       (d1_50_t, d1_50_v, '-50 mm', GREEN)],
      3.0, d_ticks, d_labels, T_LAB, R_LAB, 20, (202, 1283), 3, 2.2, ms=5.2, xlab_off=35)
panel((482, 794, 1332, 1586),
      [(d2_150_t, d2_150_v, '-150 mm', BLUE), (d2_100_t, d2_100_v, '-100 mm', ORANGE),
       (d2_50_t, d2_50_v, '-50 mm', GREEN)],
      3.0, d_ticks, d_labels, T_LAB, 'Cumulative infiltration, I, (mm)', 424, (617, 1290), 3, 2.2,
      ms=5.2, xlab_off=35)
panel((888, 1196, 1332, 1586),
      [(d3_150_x, d3_150_v, '-150 mm', BLUE), (d3_100_x, d3_100_v, '-100 mm', ORANGE),
       (d3_50_x, d3_50_v, '-50 mm', GREEN)],
      2.0, [0, 0.5, 1.0, 1.5, 2.0], ['0.0', '0.5', '1.0', '1.5', '2.0'],
      S_LAB, S_YLAB, 836, (1031, 1290), 3, 2.2, trend=True, ms=5.2, xlab_off=33)
label(244, 1355, 'd) Flat bed in Alfisols', bold=True, ha='center', size=12.8)
label(245, 1379, 'Fig i): Infiltration rate', ha='center')
label(522, 1359, 'Fig ii): Cumulative infiltration')
label(916, 1359, 'Fig iii): Sorptivity')

fig.savefig('out.png', dpi=100, facecolor='white')
